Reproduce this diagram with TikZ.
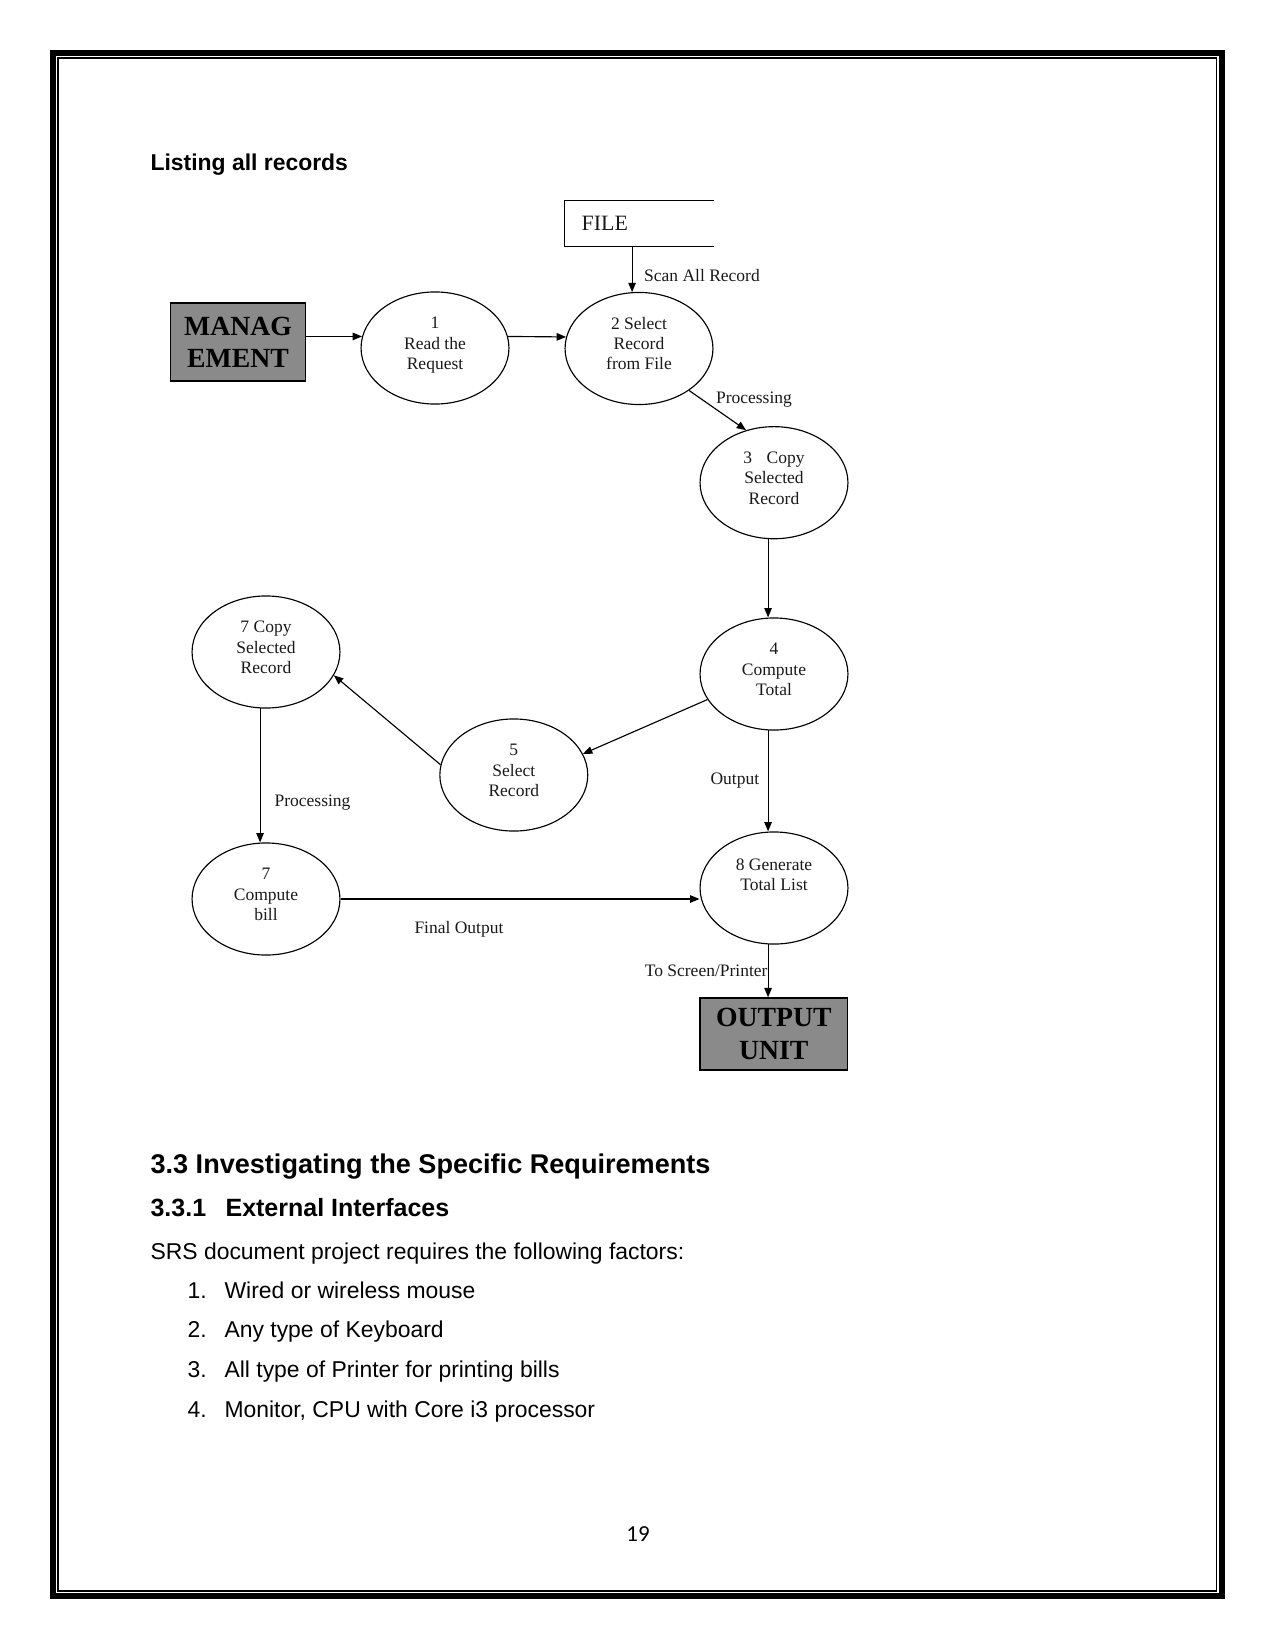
\documentclass[tikz,border=0pt]{standalone}
\usepackage{fontspec}
\setmainfont{Liberation Sans}
\newfontfamily\dfdfont{Liberation Serif}
\newfontfamily\pagefont{Carlito}
\usetikzlibrary{shapes.geometric, arrows.meta, positioning, calc}
\definecolor{boxgray}{RGB}{138,138,138}
\definecolor{inkgray}{RGB}{25,25,25}

\begin{document}
\begin{tikzpicture}[x=0.48pt, y=-0.48pt, line width=0.55pt,
    >={Triangle[length=4.5pt, width=3.6pt]},
    proc/.style={ellipse, draw, minimum width=71pt, minimum height=53.8pt, inner sep=0pt,
        align=center, text=inkgray, text height=22.6pt, text depth=2pt,
        font=\dfdfont\fontsize{8.4}{9.8}\selectfont},
    extbox/.style={rectangle, draw, line width=0.7pt, fill=boxgray, align=center, inner sep=0pt,
        font=\dfdfont\bfseries\fontsize{13.3}{15.5}\selectfont},
    store/.style={rectangle, text width=55pt, inner xsep=8pt, minimum height=21.6pt, align=left,
        text=inkgray, font=\dfdfont\fontsize{10.5}{12}\selectfont},
    lbl/.style={inner sep=0pt, text=inkgray, font=\dfdfont\fontsize{8.4}{9.8}\selectfont},
    txt/.style={anchor=base west, inner sep=0pt, font=\fontsize{11}{13}\selectfont},
    flow/.style={->}]
\useasboundingbox (0,0) rectangle (1275,1651);

% page frame
\draw[line width=2.9pt] (53,53) rectangle (1222,1596);
\draw[line width=0.7pt] (58,58) rectangle (1216.5,1591);

\node[txt, font=\bfseries\fontsize{11}{13}\selectfont] (title) at (150,171) {Listing all records};

% data flow diagram
\node[extbox, minimum width=64.7pt, minimum height=37.4pt] (mgmt) at (238,342) {MANAG\\EMENT};
\node[proc] (c1) at (435,348) {1\\Read the\\Request};
\node[proc] (c2) at (639,348.5) {2 Select\\Record\\from File};
\node[store] (file) at (639,223.5) {FILE};
\node[proc] (c3) at (774,482.7) {3\hspace{7pt}Copy\\Selected\\Record};
\node[proc] (c4) at (774,674) {4\\Compute\\Total};
\node[proc] (c5) at (513.8,775) {5\\Select\\Record};
\node[proc] (c7a) at (266,652) {7 Copy\\Selected\\Record};
\node[proc] (c7b) at (266,899) {7\\Compute\\bill};
\node[proc, text height=17.6pt, text depth=15pt] (c8) at (774,888) {8 Generate\\Total List};
\node[extbox, minimum width=70.8pt, minimum height=34.6pt] (out) at (773.75,1034) {OUTPUT\\UNIT};

\draw (file.north east) -- (file.north west) -- (file.south west) -- (file.south east);

\path[flow]
    (file.south -| c2.97) edge node[lbl, pos=0.63, right=5.5pt] {Scan All Record} (c2.97)
    (mgmt.east |- c1.171) edge (c1.171)
    (c1.9) edge (c2.171)
    (c2.-40) edge node[lbl, pos=0.5, above right=1pt and -1pt] {Processing} (c3.118)
    (c3.264) edge (c3.264 |- c4.north)
    (c4.201) edge (c5.17)
    (c5.172) edge (c7a.341)
    (c7a.264) edge node[lbl, pos=0.7, right=6.7pt] {Processing} (c7a.264 |- c7b.north)
    (c7b.east) edge node[lbl, pos=0.33, below=10.5pt] {Final Output} (c7b.east -| c8.west)
    (c4.264) edge node[lbl, pos=0.5, left=4pt] {Output} (c4.264 |- c8.north)
    (c8.264) edge node[lbl, pos=0.5, left=0pt] {To Screen/Printer} (c8.264 |- out.north);

% requirements text
\node[txt, font=\bfseries\fontsize{13}{15}\selectfont] (h33) at (150,1173) {3.3 Investigating the Specific Requirements};
\node[txt, font=\bfseries\fontsize{12}{14}\selectfont] (h331) at (150,1216.5) {3.3.1};
\node[txt, font=\bfseries\fontsize{12}{14}\selectfont] (h331t) at (225,1216.5) {External Interfaces};
\node[txt] (intro) at (150,1259) {SRS document project requires the following factors:};
\foreach \n/\y/\t in {1/1298/Wired or wireless mouse, 2/1337/Any type of Keyboard,
    3/1377/All type of Printer for printing bills, 4/1417/{Monitor, CPU with Core i3 processor}} {
  \node[txt] (num\n) at (187,\y) {\n.};
  \node[txt] (item\n) at (224,\y) {\t};
}
\node[anchor=base, inner sep=0pt, font=\pagefont\fontsize{11}{13}\selectfont] (pageno) at (638,1541) {19};
\end{tikzpicture}
\end{document}
